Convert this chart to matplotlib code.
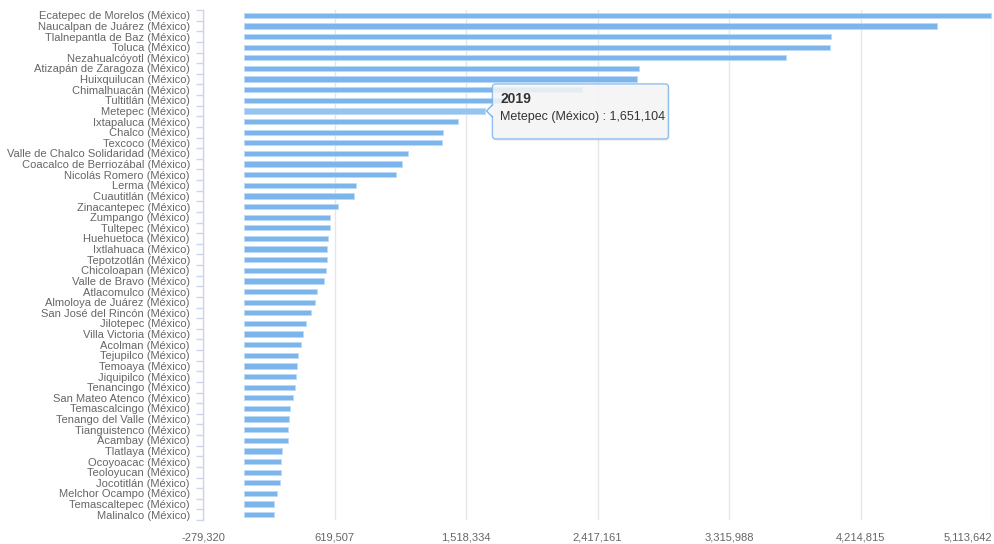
import matplotlib

matplotlib.use("Agg")
import matplotlib.pyplot as plt
import matplotlib.patches as mpatches
import matplotlib.transforms as mtransforms
from matplotlib.lines import Line2D
from matplotlib.ticker import FixedLocator

# Municipalities, top to bottom as drawn
MUNICIPIOS = [
    "Ecatepec de Morelos (México)", "Naucalpan de Juárez (México)",
    "Tlalnepantla de Baz (México)", "Toluca (México)",
    "Nezahualcóyotl (México)", "Atizapán de Zaragoza (México)",
    "Huixquilucan (México)", "Chimalhuacán (México)", "Tultitlán (México)",
    "Metepec (México)", "Ixtapaluca (México)", "Chalco (México)",
    "Texcoco (México)", "Valle de Chalco Solidaridad (México)",
    "Coacalco de Berriozábal (México)", "Nicolás Romero (México)",
    "Lerma (México)", "Cuautitlán (México)", "Zinacantepec (México)",
    "Zumpango (México)", "Tultepec (México)", "Huehuetoca (México)",
    "Ixtlahuaca (México)", "Tepotzotlán (México)", "Chicoloapan (México)",
    "Valle de Bravo (México)", "Atlacomulco (México)",
    "Almoloya de Juárez (México)", "San José del Rincón (México)",
    "Jilotepec (México)", "Villa Victoria (México)", "Acolman (México)",
    "Tejupilco (México)", "Temoaya (México)", "Jiquipilco (México)",
    "Tenancingo (México)", "San Mateo Atenco (México)",
    "Temascalcingo (México)", "Tenango del Valle (México)",
    "Tianguistenco (México)", "Acambay (México)", "Tlatlaya (México)",
    "Ocoyoacac (México)", "Teoloyucan (México)", "Jocotitlán (México)",
    "Melchor Ocampo (México)", "Temascaltepec (México)", "Malinalco (México)",
]

VALORES_2019 = [
    5110000, 4740000, 4012000, 4005000, 3703000, 2704000, 2686000, 2310000,
    1800000, 1651104, 1464000, 1364000, 1351000, 1123000, 1084000, 1041000,
    766000, 754000, 643000, 592000, 588000, 575000, 568000, 566000,
    563000, 549000, 500000, 486000, 461000, 422000, 404000, 392000,
    372000, 360000, 354000, 347000, 336000, 315000, 311000, 304000,
    299000, 261000, 254000, 253000, 247000, 229000, 208000, 203000,
]

X_TICKS = [-279320, 619507, 1518334, 2417161, 3315988, 4214815, 5113642]

TOOLTIP_YEAR = "2019"
HOVER_NAME = "Metepec (México)"

FONT = ["DejaVu Sans Condensed", "Liberation Sans Narrow", "Liberation Sans", "DejaVu Sans"]
BAR = "#7cb5ec"
BAR_HOVER = "#95c4f0"
TEXT = "#666666"
AXIS = "#ccd6eb"
GRID = "#e6e6e6"


def main() -> None:
    plt.rcParams["font.family"] = FONT

    W, H = 994, 544
    fig = plt.figure(figsize=(W / 100, H / 100), dpi=100)
    ax = fig.add_axes([203 / W, 24 / H, (992 - 203) / W, 510 / H])

    n = len(MUNICIPIOS)
    ys = list(range(n))
    colors = [BAR_HOVER if m == HOVER_NAME else BAR for m in MUNICIPIOS]
    ax.barh(ys, VALORES_2019, height=0.5, color=colors,
            edgecolor="#bcd9f5", linewidth=0.6, zorder=3)

    ax.set_xlim(X_TICKS[0], X_TICKS[-1])
    ax.set_ylim(n - 0.5, -0.5)

    for s in ("top", "right", "bottom"):
        ax.spines[s].set_visible(False)
    ax.spines["left"].set_color(AXIS)
    ax.spines["left"].set_linewidth(1)

    ax.set_yticks(ys)
    ax.set_yticklabels(MUNICIPIOS, fontsize=8, color=TEXT)
    ax.tick_params(axis="y", which="major", length=0, pad=9.4)
    ax.yaxis.set_minor_locator(FixedLocator([i - 0.5 for i in range(n + 1)]))
    ax.tick_params(axis="y", which="minor", length=5, width=1, color=AXIS)

    ax.set_xticks(X_TICKS)
    ax.set_xticklabels([f"{v:,}" for v in X_TICKS], fontsize=8, color=TEXT)
    ax.get_xticklabels()[-1].set_ha("right")
    ax.tick_params(axis="x", length=0, pad=9)
    ax.grid(axis="x", color=GRID, linewidth=1)
    ax.set_axisbelow(True)

    # Hover tooltip anchored at the end of the highlighted bar
    idx = MUNICIPIOS.index(HOVER_NAME)
    val = VALORES_2019[idx]
    x0, y0 = ax.transData.transform((val, idx))
    ident = mtransforms.IdentityTransform()
    bx, bw, bh = x0 + 7, 176, 55
    by = y0 - 28
    fig.add_artist(mpatches.FancyBboxPatch(
        (bx + 1, by - 2), bw, bh, boxstyle="round,pad=0,rounding_size=3",
        transform=ident, facecolor="#000000", alpha=0.06, edgecolor="none", zorder=9))
    fig.add_artist(mpatches.FancyBboxPatch(
        (bx, by), bw, bh, boxstyle="round,pad=0,rounding_size=3",
        transform=ident, facecolor="#f7f7f7", alpha=0.85,
        edgecolor=BAR, linewidth=1, zorder=10))
    fig.add_artist(mpatches.Polygon(
        [(bx + 1.5, y0 + 6), (x0 + 1, y0), (bx + 1.5, y0 - 6)], closed=True,
        transform=ident, facecolor="#f7f7f7", edgecolor="none", zorder=11))
    fig.add_artist(Line2D([bx, x0 + 1, bx], [y0 + 6, y0, y0 - 6],
                          transform=ident, color=BAR, linewidth=1, zorder=12))
    fig.text(bx + 8, y0 + 12, TOOLTIP_YEAR, transform=ident, fontsize=10,
             fontweight="bold", color="#333333", va="center", ha="left", zorder=13)
    fig.text(bx + 8, y0 - 6, f"{HOVER_NAME} : {val:,}", transform=ident,
             fontsize=9, color="#333333", va="center", ha="left", zorder=13)

    fig.savefig("out.png", dpi=100)


if __name__ == "__main__":
    main()
